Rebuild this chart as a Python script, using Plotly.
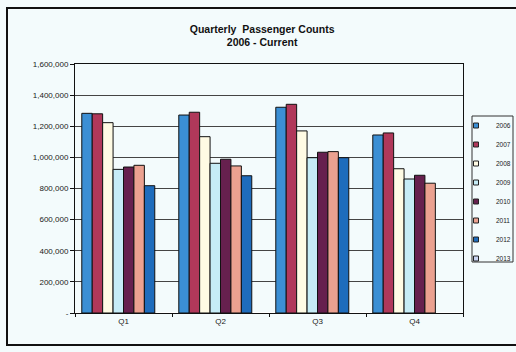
import plotly.graph_objects as go

quarters = ["Q1", "Q2", "Q3", "Q4"]
years = ["2006", "2007", "2008", "2009", "2010", "2011", "2012", "2013"]
v2006 = [1283000, 1272000, 1322000, 1144000]
v2007 = [1280000, 1290000, 1341000, 1157000]
v2008 = [1223000, 1133000, 1170000, 927000]
v2009 = [923000, 962000, 998000, 861000]
v2010 = [938000, 988000, 1033000, 885000]
v2011 = [949000, 945000, 1037000, 834000]
v2012 = [818000, 882000, 998000, None]
v2013 = [None, None, None, None]
series = [v2006, v2007, v2008, v2009, v2010, v2011, v2012, v2013]
colors = ["#3b8fd4", "#b0385a", "#fffbe4", "#c6ecf6", "#66204e", "#eba190", "#1e6cbc", "#c9d4f2"]

ytickvals = [0, 200000, 400000, 600000, 800000, 1000000, 1200000, 1400000, 1600000]
yticktext = ["-", "200,000", "400,000", "600,000", "800,000", "1,000,000", "1,200,000", "1,400,000", "1,600,000"]

fig = go.Figure()
for name, vals, col in zip(years, series, colors):
    fig.add_trace(go.Bar(x=quarters, y=vals, name=name, showlegend=False,
                         marker=dict(color=col, line=dict(color="#111111", width=1))))
# compact legend entries (small square keys, as in the original)
for name, col in zip(years, colors):
    fig.add_trace(go.Scatter(x=[None], y=[None], mode="markers", name=name,
                             marker=dict(symbol="square", size=5, color=col,
                                         line=dict(color="#222222", width=1))))

bg = "#f3fbfc"
fig.update_layout(
    width=516, height=352,
    margin=dict(l=75, r=53, t=64, b=39, autoexpand=False),
    paper_bgcolor=bg, plot_bgcolor=bg,
    barmode="group", bargap=0.14, bargroupgap=0,
    font=dict(family="Liberation Sans, Arial, sans-serif", size=8, color="#1a1a1a"),
    title=dict(text="<b>Quarterly  Passenger Counts</b><br><b>2006 - Current</b>",
               x=0.508, xanchor="center", y=0.907, yanchor="middle",
               font=dict(size=10.5, color="#111111")),
    legend=dict(x=(456 - 75) / 388, y=(313 - 111) / 249, xanchor="left", yanchor="top",
                bgcolor="rgba(0,0,0,0)", borderwidth=0,
                font=dict(size=6.5, color="#222222"), tracegroupgap=0,
                itemwidth=30, traceorder="normal"),
    showlegend=True,
    shapes=[dict(type="rect", xref="paper", yref="paper",
                 x0=-68/388, x1=1.2, y0=-32/249, y1=305/249,
                 line=dict(color="#111111", width=2), layer="below"),
            dict(type="rect", xref="paper", yref="paper",
                 x0=(472 - 75) / 388, x1=(513 - 75) / 388,
                 y0=(313 - 262) / 249, y1=(313 - 116) / 249,
                 line=dict(color="#333333", width=1), fillcolor=bg, layer="below")],
)
fig.update_xaxes(showline=True, linecolor="#111111", linewidth=1, mirror=True,
                 ticks="outside", tickson="boundaries", ticklen=3, tickcolor="#111111",
                 tickfont=dict(size=8, color="#222222"), showgrid=False)
fig.update_yaxes(range=[0, 1600000], tickvals=ytickvals, ticktext=yticktext,
                 showline=True, linecolor="#111111", linewidth=1, mirror=True,
                 ticks="outside", ticklen=4, tickcolor="#111111",
                 showgrid=True, gridcolor="#444444", gridwidth=1,
                 tickfont=dict(size=8, color="#222222"))
fig.write_html("out.html")
